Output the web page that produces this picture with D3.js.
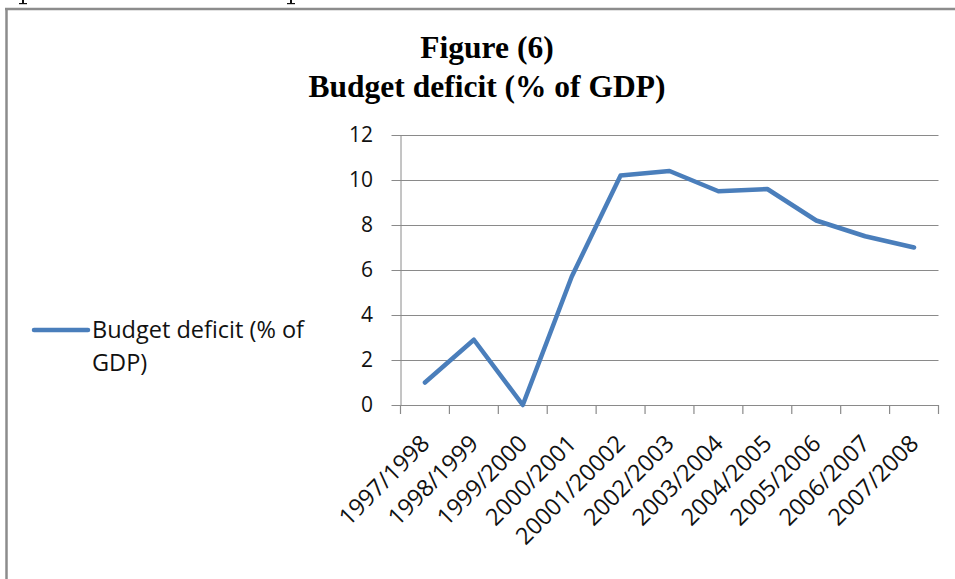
<!DOCTYPE html>
<html><head><meta charset="utf-8">
<script src="https://cdn.jsdelivr.net/npm/d3@7/dist/d3.min.js"></script>
<style>
html,body{margin:0;padding:0;background:#fff;}
svg{display:block;}
</style></head>
<body>
<script>
const categories = ["1997/1998","1998/1999","1999/2000","2000/2001","20001/20002","2002/2003","2003/2004","2004/2005","2005/2006","2006/2007","2007/2008"];
const deficit = [1.0, 2.9, 0.0, 5.7, 10.2, 10.4, 9.5, 9.6, 8.2, 7.5, 7.0];
const yTicks = [0, 2, 4, 6, 8, 10, 12];
const titleLines = ["Figure (6)", "Budget deficit (% of GDP)"];
const seriesName = ["Budget deficit (% of", "GDP)"];

(function(){
const W = 955, H = 579;
const svg = d3.select("body").append("svg").attr("width", W).attr("height", H);
const font = "'Open Sans', 'Noto Sans', sans-serif";

// fragments of the page text above the chart (descenders only) and frame
[23, 291].forEach(px => {
  svg.append("rect").attr("x", px - 1).attr("y", 0).attr("width", 2).attr("height", 3).attr("fill", "#111");
  svg.append("rect").attr("x", px - 4).attr("y", 3).attr("width", 8).attr("height", 1.2).attr("fill", "#111");
});
svg.append("line").attr("x1", 5).attr("x2", W).attr("y1", 9).attr("y2", 9).attr("stroke", "#8c8c8c").attr("stroke-width", 2.5);
svg.append("line").attr("x1", 6.5).attr("x2", 6.5).attr("y1", 8).attr("y2", H).attr("stroke", "#8c8c8c").attr("stroke-width", 2.5);

// title
svg.selectAll("text.title").data(titleLines).enter().append("text")
  .attr("class","title")
  .attr("x", 487).attr("y", (d,i) => 58 + i*39)
  .attr("text-anchor","middle")
  .attr("font-family","'Liberation Serif', 'Times New Roman', serif")
  .attr("font-weight","bold").attr("font-size", 31.5)
  .text(d => d);

const pl = 400.5, pr = 938.5, pt = 135, pb = 405;
const x = d3.scaleBand().domain(categories).range([pl, pr]);
const y = d3.scaleLinear().domain([0, 12]).range([pb, pt]);

// gridlines
svg.append("g").selectAll("line").data(yTicks).enter().append("line")
  .attr("x1", pl - 9).attr("x2", pr)
  .attr("y1", d => Math.round(y(d)) + 0.5).attr("y2", d => Math.round(y(d)) + 0.5)
  .attr("stroke", "#8a8a8a").attr("stroke-width", 1);

// y axis
const yAxis = svg.append("g").attr("transform", `translate(${pl},0)`)
  .call(d3.axisLeft(y).tickValues(yTicks).tickSize(0).tickPadding(27.5));
yAxis.select(".domain").attr("stroke", "#8a8a8a");
yAxis.selectAll("text").attr("font-family", font).attr("font-size", 21).attr("fill", "#111");

// x ticks
svg.append("g").selectAll("line").data(d3.range(categories.length + 1)).enter().append("line")
  .attr("x1", i => pl + i * x.step()).attr("x2", i => pl + i * x.step())
  .attr("y1", pb).attr("y2", pb + 9)
  .attr("stroke", "#8a8a8a").attr("stroke-width", 1.2);

svg.append("g").selectAll("text").data(categories).enter().append("text")
  .attr("transform", d => `translate(${x(d) + x.bandwidth()/2 + 6},${pb + 40}) rotate(-45)`)
  .attr("text-anchor", "end")
  .attr("font-family", font).attr("font-size", 23.5).attr("fill", "#111")
  .text(d => d);

// line
const line = d3.line().x((d,i) => x(categories[i]) + x.bandwidth()/2).y(d => y(d));
svg.append("path").datum(deficit).attr("d", line)
  .attr("fill","none").attr("stroke","#4a7ebb").attr("stroke-width",4.5)
  .attr("stroke-linejoin","round").attr("stroke-linecap","round");

// legend
svg.append("line").attr("x1", 34).attr("x2", 88).attr("y1", 330).attr("y2", 330)
  .attr("stroke","#4a7ebb").attr("stroke-width",4.5).attr("stroke-linecap","round");
svg.selectAll("text.leg").data(seriesName).enter().append("text")
  .attr("class","leg").attr("x", 92).attr("y", (d,i) => 338 + i*33)
  .attr("font-family", font).attr("font-size", 23.5).attr("fill", "#111")
  .text(d => d);
})();
</script>
</body></html>
